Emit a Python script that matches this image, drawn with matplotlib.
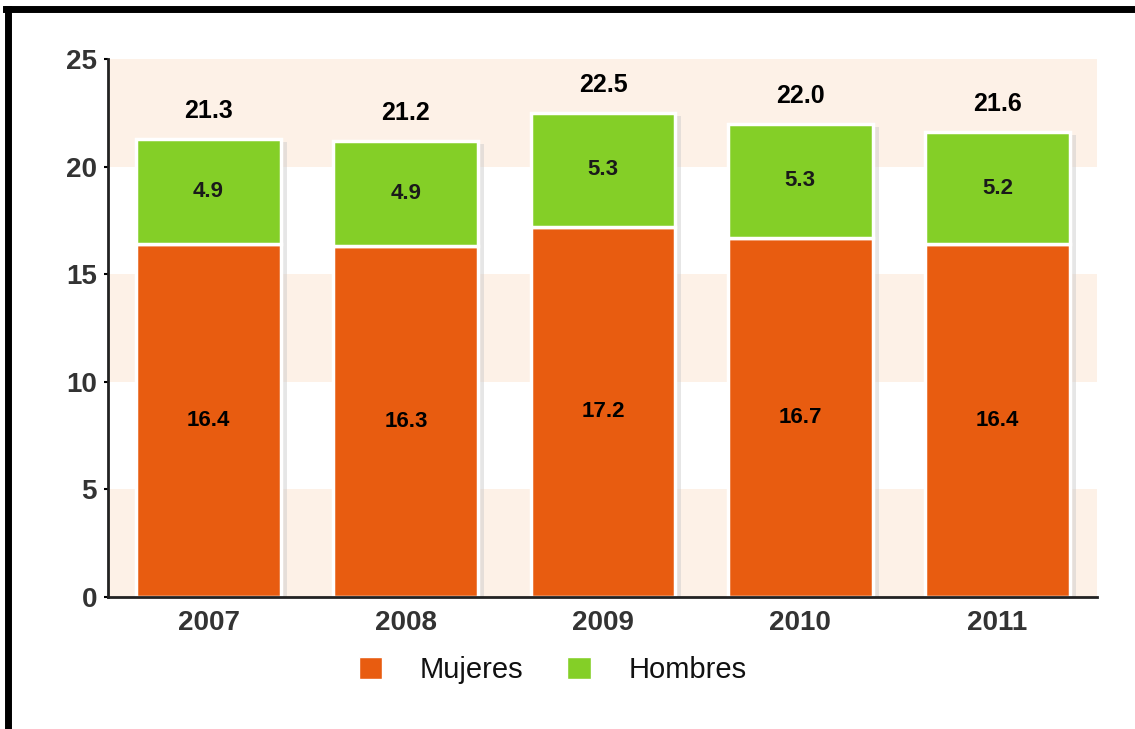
import matplotlib.pyplot as plt
import numpy as np
from matplotlib.lines import Line2D
from matplotlib.patches import Patch

plt.rcParams['font.family'] = ['Liberation Sans', 'DejaVu Sans']

years = ["2007", "2008", "2009", "2010", "2011"]
mujeres = [16.4, 16.3, 17.2, 16.7, 16.4]
hombres = [4.9, 4.9, 5.3, 5.3, 5.2]
totales = [21.3, 21.2, 22.5, 22.0, 21.6]

orange = "#e85c10"
green = "#84cf27"
band = "#fdf1e7"

fig = plt.figure(figsize=(11.35, 7.29), dpi=100)
ax = fig.add_axes([0.0952, 0.181, 0.8713, 0.738])

# alternating background bands
for lo in range(0, 25, 10):
    ax.axhspan(lo, lo + 5, color=band, zorder=0, lw=0)

x = np.arange(len(years))
w = 0.735

# soft shadow behind the bars
ax.bar(x + 0.03, totales, w, bottom=-0.15, color="#c8c8c8", alpha=0.45, zorder=1, lw=0)
ax.bar(x, mujeres, w, color=orange, edgecolor="white", linewidth=2.5, zorder=2)
ax.bar(x, hombres, w, bottom=mujeres, color=green, edgecolor="white", linewidth=2.5, zorder=2)

for i in range(len(years)):
    ax.text(x[i], mujeres[i] / 2, f"{mujeres[i]:.1f}", ha="center", va="center",
            fontsize=16, fontweight="bold", color="black", zorder=3)
    ax.text(x[i], mujeres[i] + hombres[i] / 2, f"{hombres[i]:.1f}", ha="center", va="center",
            fontsize=16, fontweight="bold", color="#1a1a1a", zorder=3)
    ax.text(x[i], totales[i] + 1.3, f"{totales[i]:.1f}", ha="center", va="center",
            fontsize=18, fontweight="bold", color="black", zorder=3)

ax.set_xlim(-0.51, 4.505)
ax.set_ylim(0, 25)
ax.set_xticks(x)
ax.set_xticklabels(years)
ax.set_yticks([0, 5, 10, 15, 20, 25])
for s in ["top", "right"]:
    ax.spines[s].set_visible(False)
for s in ["left", "bottom"]:
    ax.spines[s].set_linewidth(2)
    ax.spines[s].set_color("#222222")
ax.tick_params(axis="x", length=0, pad=9, labelsize=20, labelcolor="#333333")
ax.tick_params(axis="y", length=3, width=1.5, pad=5, labelsize=20, labelcolor="#333333")
for lab in ax.get_xticklabels() + ax.get_yticklabels():
    lab.set_fontweight("bold")

handles = [Patch(facecolor=orange, edgecolor="white"), Patch(facecolor=green, edgecolor="white")]
fig.legend(handles, ["Mujeres", "Hombres"], loc="center", bbox_to_anchor=(0.487, 0.081),
           ncol=2, frameon=False, fontsize=21, handlelength=0.8, handleheight=0.8,
           handletextpad=1.3, columnspacing=1.5, labelcolor="#111111")

# black frame around the chart
fig.add_artist(Line2D([0.007, 0.007], [0.0, 0.988], transform=fig.transFigure,
                      color="black", lw=5))
fig.add_artist(Line2D([0.005, 1.0], [0.988, 0.988], transform=fig.transFigure,
                      color="black", lw=5))

fig.savefig("out.png", dpi=100)
